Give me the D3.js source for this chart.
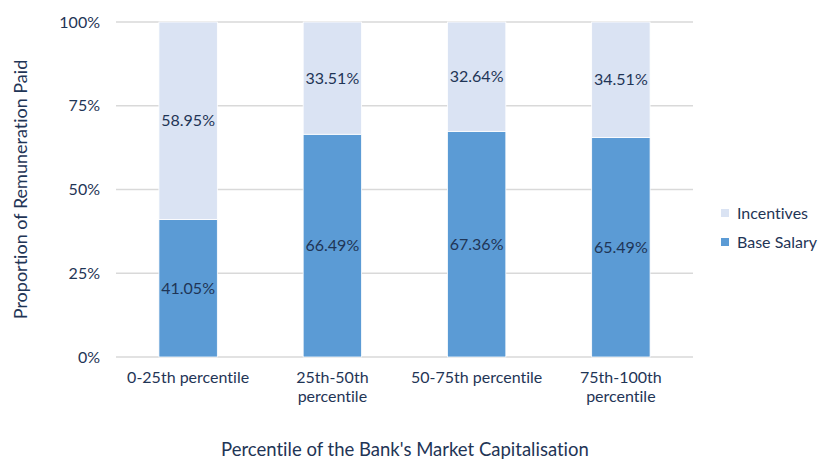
<!DOCTYPE html>
<html>
<head>
<meta charset="utf-8">
<script src="https://cdn.jsdelivr.net/npm/d3@7"></script>
<style>
  body { margin: 0; background: #fff; }
  text { font-family: Lato, "Open Sans", sans-serif; fill: #1f3556; font-variant-ligatures: none; }
</style>
</head>
<body>
<div id="grafica"></div>
<script>
// datos del grafico
const categories = ["0-25th percentile", "25th-50th percentile", "50-75th percentile", "75th-100th percentile"]
const categoryLines = [["0-25th percentile"], ["25th-50th", "percentile"], ["50-75th percentile"], ["75th-100th", "percentile"]]
const baseSalary = [41.05, 66.49, 67.36, 65.49]
const incentives = [58.95, 33.51, 32.64, 34.51]
const seriesNames = ["Base Salary", "Incentives"]
const yTicks = [0, 25, 50, 75, 100]

let width = 821
let height = 459
let plotLeft = 116, plotRight = 693, plotTop = 22, plotBottom = 357

const svg = d3.select("#grafica")
    .append("svg")
    .attr("width", width)
    .attr("height", height)

const xScale = d3.scaleBand()
    .domain(categories)
    .range([plotLeft, plotRight])
    .paddingInner(0.595)
    .paddingOuter(0.2975)

const yScale = d3.scaleLinear()
    .domain([0, 100])
    .range([plotBottom, plotTop])

const color = d3.scaleOrdinal()
    .domain(seriesNames)
    .range(["#5b9bd5", "#dae3f3"])

// lineas de la grilla
svg.append("g")
    .selectAll("line")
    .data(yTicks)
    .enter()
    .append("line")
    .attr("x1", plotLeft)
    .attr("x2", plotRight)
    .attr("y1", d => yScale(d))
    .attr("y2", d => yScale(d))
    .attr("stroke", "#d9d9d9")
    .attr("stroke-width", 1.5)

const yAxis = d3.axisLeft(yScale).tickValues(yTicks).tickFormat(d => d + "%").tickSize(0).tickPadding(16)
svg.append("g")
    .attr("transform", "translate(" + plotLeft + ",0)")
    .call(yAxis)
    .call(g => g.select(".domain").remove())
    .selectAll("text")
    .attr("font-size", 16)
    .style("font-family", "Lato, sans-serif")
    .attr("fill", "#1f3556")

const rows = categories.map((c, i) => ({ cat: c, base: baseSalary[i], inc: incentives[i] }))
const stacked = d3.stack().keys(["base", "inc"])(rows)

const groups = svg.append("g")
    .selectAll("g")
    .data(stacked)
    .enter()
    .append("g")
    .attr("fill", (d, i) => color(seriesNames[i]))

groups.selectAll("rect")
    .data(d => d)
    .enter()
    .append("rect")
    .attr("x", d => xScale(d.data.cat))
    .attr("width", xScale.bandwidth())
    .attr("y", d => yScale(d[1]))
    .attr("height", d => yScale(d[0]) - yScale(d[1]))
    .attr("stroke", "#fff")
    .attr("stroke-width", 0.8)

groups.selectAll("text")
    .data(d => d)
    .enter()
    .append("text")
    .attr("x", d => xScale(d.data.cat) + xScale.bandwidth() / 2)
    .attr("y", d => (yScale(d[0]) + yScale(d[1])) / 2)
    .attr("dy", "0.35em")
    .attr("text-anchor", "middle")
    .attr("font-size", 16)
    .text(d => (d[1] - d[0]).toFixed(2) + "%")

// etiquetas del eje x
const xLabels = svg.append("g")
    .selectAll("text")
    .data(categories)
    .enter()
    .append("text")
    .attr("x", d => xScale(d) + xScale.bandwidth() / 2)
    .attr("y", plotBottom + 26)
    .attr("text-anchor", "middle")
    .attr("font-size", 16)

xLabels.selectAll("tspan")
    .data((d, i) => categoryLines[i])
    .enter()
    .append("tspan")
    .attr("x", function () { return this.parentNode.getAttribute("x") })
    .attr("dy", (d, j) => j === 0 ? 0 : 19)
    .text(d => d)

svg.append("text")
    .attr("text-anchor", "middle")
    .attr("x", 405)
    .attr("y", 456)
    .attr("font-size", 18.5)
    .text("Percentile of the Bank's Market Capitalisation")

svg.append("text")
    .attr("text-anchor", "middle")
    .attr("transform", "translate(27," + ((plotTop + plotBottom) / 2) + ") rotate(-90)")
    .attr("font-size", 18)
    .text("Proportion of Remuneration Paid")

// leyenda
const legendOrder = ["Incentives", "Base Salary"]
const legend = svg.append("g")
    .selectAll("g")
    .data(legendOrder)
    .enter()
    .append("g")
    .attr("transform", (d, i) => "translate(721," + (209 + i * 29) + ")")

legend.append("rect")
    .attr("width", 8)
    .attr("height", 8)
    .attr("fill", d => color(d))

legend.append("text")
    .attr("x", 16)
    .attr("y", 4)
    .attr("dy", "0.35em")
    .attr("font-size", 16)
    .text(d => d)
</script>
</body>
</html>
